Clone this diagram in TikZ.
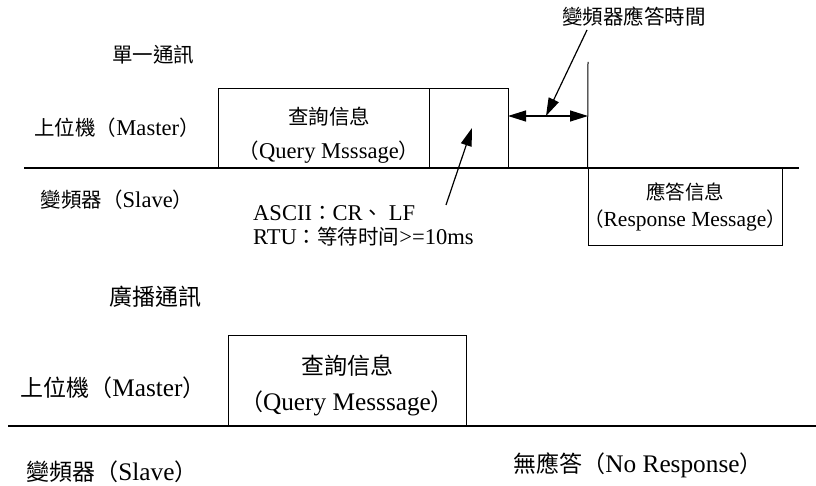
\documentclass[tikz,border=0pt]{standalone}
\usepackage{fontspec}
\setmainfont{Liberation Serif}[Scale=1.1]
\newfontfamily\cjk{Noto Sans CJK TC}
\usetikzlibrary{arrows.meta}
\newcommand{\zh}[1]{{\cjk #1}}
\begin{document}
\begin{tikzpicture}[x=1pt,y=-1pt,
  lbl/.style={inner sep=0pt, font=\fontsize{20.5}{34}\selectfont, align=center},
  lbls/.style={inner sep=0pt, font=\fontsize{20.5}{22}\selectfont, align=left},
  lblr/.style={inner sep=0pt, font=\fontsize{19.5}{27}\selectfont, align=center},
  lblb/.style={inner sep=0pt, font=\fontsize{23}{36}\selectfont, align=center},
  box/.style={draw, line width=1pt, inner sep=0pt},
  axis/.style={line width=1.3pt},
  tip/.style={-{Triangle[length=18pt,width=11pt]}, line width=1.2pt},
  dtip/.style={{Triangle[length=18pt,width=11pt]}-{Triangle[length=18pt,width=11pt]}, line width=1.2pt},
]
\useasboundingbox (0,0) rectangle (816,486);

% ---------- top: single communication ----------
\node[lbl] (title1) at (153,55) {\zh{單一通訊}};
\node[lbl] (m1) at (117,128) {\zh{上位機（}Master\zh{）}};
\node[lbl] (s1) at (117,200) {\zh{變頻器（}Slave\zh{）}};

\coordinate (L1a) at (24,168);
\coordinate (L1b) at (799,168);
\draw[axis] (L1a) -- (L1b);

\node[box, minimum width=211pt, minimum height=79pt] (q1) at (323.5,128.5) {};
\node[lbl] (q1t) at (329,135) {\zh{查詢信息}\\\zh{（}Query Msssage\zh{）}};
\node[box, minimum width=79pt, minimum height=79pt] (e1) at (468.5,128.5) {};

\node[box, minimum width=194pt, minimum height=78pt] (r1) at (685,207) {};
\node[lblr] (r1t) at (685,207) {\zh{應答信息}\\\zh{（}Response Message\zh{）}};

\coordinate (vt) at (588,62);
\draw[line width=1pt] (vt) -- (r1.north west);

\coordinate (da) at (508,116);
\coordinate (db) at (588,116);
\draw[dtip] (da) -- (db);

\node[lbl] (rt) at (634,17) {\zh{變頻器應答時間}};
\coordinate (a1s) at (587,30);
\coordinate (a1e) at (546,116);
\draw[tip] (a1s) -- (a1e);

\node[lbls, anchor=west] (asc) at (253,213) {ASCII\zh{：}CR\zh{、} LF};
\node[lbls, anchor=west] (rtu) at (253,237) {RTU\zh{：等待时间}>=10ms};
\coordinate (a2s) at (446,205);
\coordinate (a2e) at (472,128);
\draw[tip] (a2s) -- (a2e);

% ---------- bottom: broadcast ----------
\node[lblb] (title2) at (155,297) {\zh{廣播通訊}};
\node[lblb] (m2) at (113,388) {\zh{上位機（}Master\zh{）}};
\node[lblb] (s2) at (112,472) {\zh{變頻器（}Slave\zh{）}};

\coordinate (L2a) at (8,426);
\coordinate (L2b) at (816,426);
\draw[axis] (L2a) -- (L2b);

\node[box, minimum width=238pt, minimum height=91pt] (q2) at (347,380.5) {};
\node[lblb] (q2t) at (347,385) {\zh{查詢信息}\\\zh{（}Query Messsage\zh{）}};

\node[lblb] (nr) at (638,465) {\zh{無應答（}No Response\zh{）}};
\end{tikzpicture}
\end{document}
